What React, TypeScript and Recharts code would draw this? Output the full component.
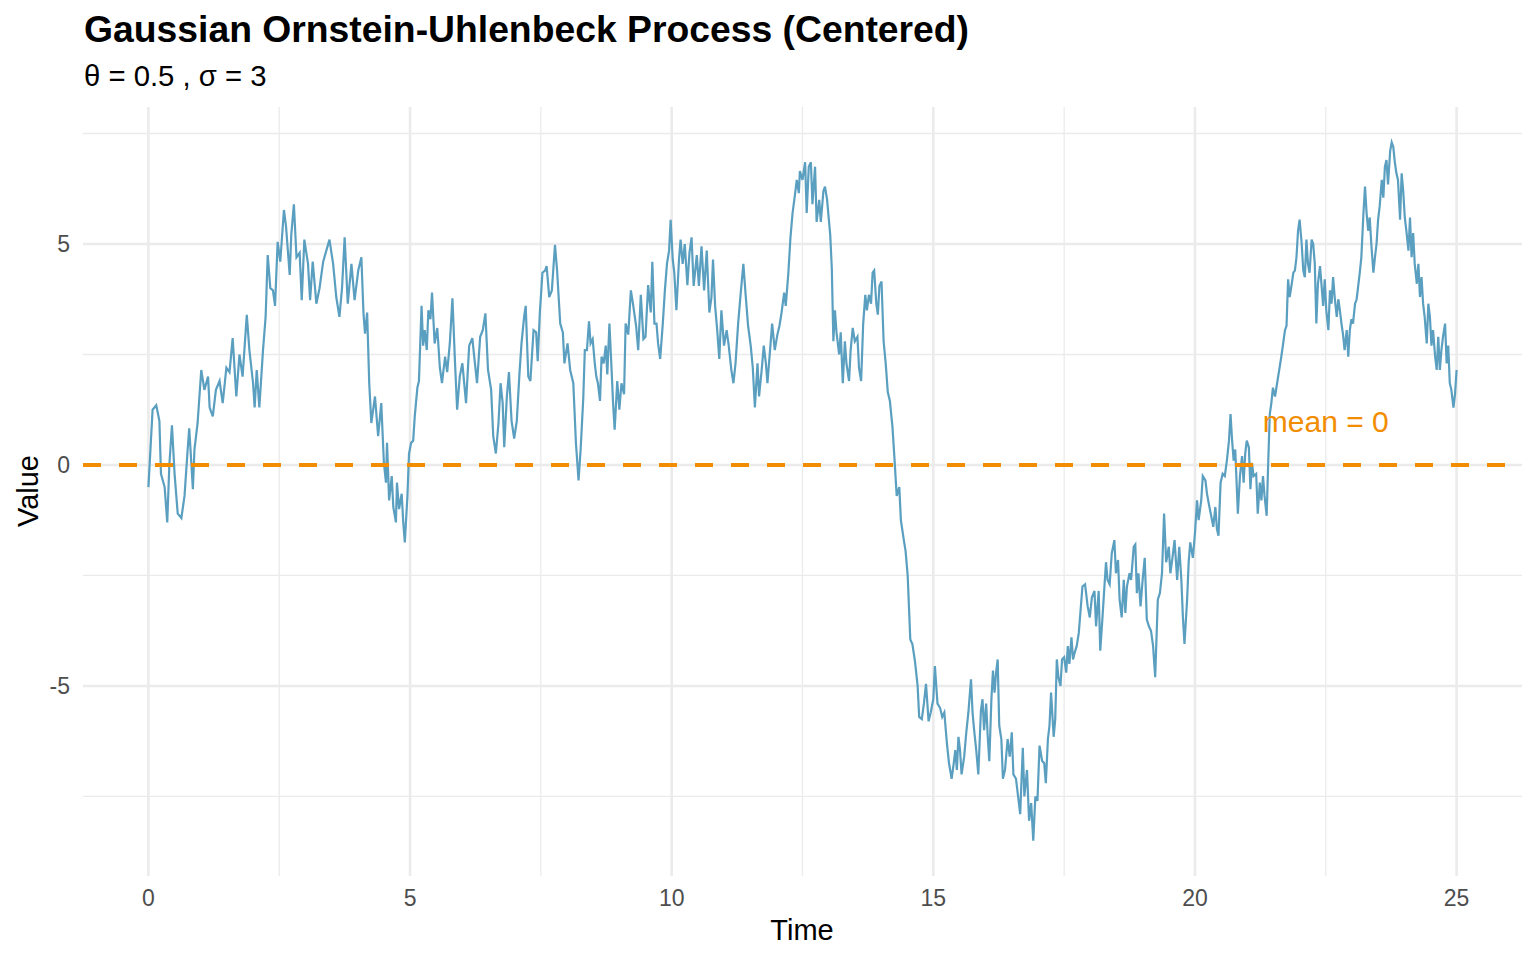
import React from 'react';
import { LineChart, Line, XAxis, YAxis, ReferenceLine, ReferenceDot } from 'recharts';

// sample path: [time, value]
const ouPath: [number, number][] = [
    [0, -0.5], [0.08, 1.25], [0.15, 1.35], [0.21, 1.0], [0.24, -0.2], [0.31, -0.5], [0.36, -1.3], [0.4, 0.0], [0.45, 0.9], [0.5, -0.2],
    [0.56, -1.1], [0.63, -1.2], [0.69, -0.7], [0.75, 0.35], [0.78, 0.83], [0.85, -0.55], [0.88, 0.35], [0.94, 0.95], [1.01, 2.15], [1.07, 1.7],
    [1.14, 2.0], [1.17, 1.3], [1.23, 1.1], [1.29, 1.7], [1.36, 1.9], [1.42, 1.4], [1.49, 2.2], [1.55, 2.1], [1.61, 2.87], [1.68, 1.55],
    [1.74, 2.5], [1.8, 2.0], [1.84, 2.7], [1.88, 3.4], [1.93, 2.6], [2.0, 1.85], [2.03, 1.3], [2.07, 2.15], [2.12, 1.3], [2.19, 2.6],
    [2.24, 3.35], [2.28, 4.75], [2.33, 4.0], [2.38, 3.95], [2.42, 3.6], [2.47, 5.05], [2.52, 4.6], [2.59, 5.77], [2.63, 5.4], [2.7, 4.3],
    [2.73, 5.2], [2.78, 5.9], [2.83, 4.7], [2.89, 4.8], [2.93, 3.73], [2.98, 5.1], [3.05, 4.55], [3.09, 3.73], [3.14, 4.6], [3.21, 3.65],
    [3.27, 4.0], [3.34, 4.6], [3.4, 4.85], [3.46, 5.1], [3.53, 4.55], [3.59, 3.8], [3.65, 3.35], [3.7, 4.0], [3.75, 5.15], [3.81, 3.65],
    [3.88, 4.55], [3.94, 3.73], [4.01, 4.4], [4.07, 4.7], [4.11, 3.43], [4.14, 2.97], [4.18, 3.45], [4.22, 1.85],
    [4.26, 0.95], [4.33, 1.55], [4.39, 0.65], [4.45, 1.4], [4.5, 0.05], [4.54, -0.4], [4.56, 0.5], [4.6, -0.8], [4.65, -0.25], [4.68, -0.95],
    [4.73, -1.3], [4.75, -0.4], [4.79, -1.0], [4.84, -0.65], [4.87, -1.3], [4.9, -1.75], [4.95, -0.7], [4.98, 0.25], [5.02, 0.5], [5.06, 0.55],
    [5.09, 1.1], [5.14, 1.75], [5.17, 1.9], [5.22, 3.6], [5.25, 2.7], [5.28, 3.05], [5.32, 2.6], [5.35, 3.5], [5.39, 3.3], [5.42, 3.9],
    [5.47, 2.75], [5.52, 3.1], [5.57, 2.2], [5.61, 1.85], [5.67, 2.45], [5.71, 2.1], [5.76, 2.75], [5.81, 3.77], [5.86, 2.3], [5.9, 1.25],
    [5.95, 2.0], [6.0, 2.3], [6.07, 1.4], [6.13, 2.7], [6.19, 2.87], [6.24, 2.3], [6.28, 1.85], [6.34, 2.9], [6.39, 3.05], [6.44, 3.43],
    [6.49, 2.15], [6.55, 1.7], [6.59, 0.65], [6.64, 0.26], [6.69, 0.95], [6.73, 1.85], [6.77, 1.4], [6.8, 0.4], [6.85, 1.55], [6.89, 2.1],
    [6.94, 1.0], [6.99, 0.6], [7.04, 1.0], [7.09, 2.05], [7.13, 2.75], [7.18, 3.35], [7.21, 3.6], [7.26, 2.0], [7.3, 1.9], [7.36, 3.05],
    [7.41, 3.0], [7.44, 2.35], [7.48, 3.43], [7.53, 4.35], [7.58, 4.4], [7.61, 4.5], [7.66, 3.8], [7.71, 3.95], [7.77, 4.98], [7.81, 4.4],
    [7.87, 3.2], [7.92, 3.0], [7.95, 2.3], [8.01, 2.75], [8.06, 2.15], [8.12, 1.85], [8.17, 0.5], [8.22, -0.35], [8.26, 0.35],
    [8.31, 1.5], [8.34, 2.6], [8.38, 2.6], [8.42, 3.25], [8.45, 2.75], [8.49, 2.85], [8.53, 2.3], [8.56, 2.0], [8.59, 1.85], [8.63, 1.45],
    [8.66, 2.45], [8.7, 2.3], [8.74, 2.7], [8.77, 2.05], [8.81, 3.2], [8.85, 2.2], [8.88, 1.4], [8.91, 0.8], [8.96, 1.9], [9.0, 1.25],
    [9.04, 1.85], [9.09, 1.6], [9.12, 3.2], [9.17, 2.95], [9.22, 3.95], [9.26, 3.65], [9.32, 3.15], [9.36, 2.6], [9.41, 3.85], [9.46, 2.85],
    [9.5, 2.9], [9.55, 4.07], [9.6, 3.45], [9.63, 4.6], [9.67, 3.2], [9.71, 3.2], [9.74, 2.75], [9.78, 2.4], [9.83, 3.2], [9.87, 3.95],
    [9.91, 4.55], [9.95, 4.85], [9.98, 5.55], [10.02, 4.65], [10.05, 4.35], [10.09, 3.5], [10.14, 4.65], [10.17, 5.1], [10.21, 4.55], [10.25, 5.0],
    [10.3, 4.07], [10.34, 4.8], [10.38, 5.15], [10.42, 4.05], [10.48, 4.75], [10.52, 4.05], [10.57, 4.95], [10.62, 3.95], [10.67, 4.85], [10.72, 3.45],
    [10.76, 3.8], [10.79, 4.65], [10.83, 3.6], [10.87, 3.05], [10.91, 2.4], [10.95, 3.5], [11.0, 2.7], [11.05, 3.05], [11.09, 2.7], [11.14, 2.15],
    [11.18, 1.85], [11.22, 2.3], [11.27, 3.2], [11.32, 3.9], [11.37, 4.55], [11.41, 3.9], [11.46, 3.15], [11.51, 2.7], [11.55, 2.2], [11.59, 1.3],
    [11.64, 2.3], [11.67, 1.55], [11.72, 2.15], [11.76, 2.7], [11.8, 2.3], [11.83, 1.85], [11.88, 2.6], [11.92, 3.2], [11.97, 2.6], [12.02, 2.95],
    [12.06, 3.15], [12.1, 3.45], [12.15, 3.9], [12.18, 3.6], [12.23, 4.35], [12.27, 5.15], [12.31, 5.7], [12.36, 6.15], [12.39, 6.45], [12.43, 6.15],
    [12.45, 6.65], [12.5, 6.45], [12.55, 6.85], [12.58, 5.7], [12.62, 6.75], [12.66, 6.85], [12.69, 5.9], [12.74, 6.75], [12.77, 5.5], [12.82, 6.0],
    [12.85, 5.5], [12.9, 6.2], [12.93, 6.3], [12.97, 6.0], [13.03, 5.2], [13.06, 4.45], [13.09, 2.8], [13.12, 3.5], [13.15, 3.0], [13.2, 2.5],
    [13.23, 3.0], [13.27, 1.85], [13.31, 2.8], [13.34, 2.3], [13.39, 1.9], [13.42, 2.6], [13.46, 3.1], [13.5, 2.8], [13.55, 2.9], [13.58, 2.2],
    [13.62, 1.9], [13.66, 3.2], [13.7, 3.85], [13.73, 3.5], [13.77, 3.85], [13.81, 3.65], [13.84, 4.35], [13.87, 4.4], [13.91, 3.65], [13.94, 3.4],
    [13.97, 4.05], [14.01, 4.15], [14.05, 2.8], [14.09, 2.3], [14.13, 1.65], [14.17, 1.45], [14.22, 0.85], [14.26, 0.1], [14.3, -0.7], [14.35, -0.5],
    [14.38, -1.25], [14.43, -1.65], [14.47, -1.95], [14.51, -2.5], [14.56, -3.95], [14.6, -4.05], [14.65, -4.45], [14.7, -5.0], [14.73, -5.7], [14.78, -5.75],
    [14.82, -5.4], [14.86, -4.95], [14.91, -5.8], [14.95, -5.6], [15.0, -5.3], [15.03, -4.55], [15.08, -5.4], [15.13, -5.5], [15.17, -5.7], [15.21, -5.6],
    [15.26, -6.3], [15.3, -6.75],
    [15.35, -7.1], [15.39, -6.75], [15.42, -6.45], [15.45, -6.9], [15.48, -6.15], [15.51, -6.45], [15.54, -7.0], [15.59, -6.6], [15.63, -6.05], [15.67, -5.6],
    [15.72, -4.85], [15.75, -5.6], [15.78, -6.0], [15.82, -6.45], [15.86, -7.0], [15.91, -5.55], [15.94, -5.3], [15.97, -6.0], [16.01, -5.4], [16.04, -6.15],
    [16.07, -6.7], [16.11, -5.3], [16.14, -4.65], [16.17, -5.15], [16.2, -4.7], [16.23, -4.4], [16.26, -5.9], [16.3, -6.2], [16.33, -7.1], [16.37, -6.9],
    [16.42, -6.2], [16.46, -6.6], [16.5, -6.05], [16.53, -7.0], [16.58, -7.1], [16.62, -7.5], [16.66, -7.9], [16.71, -6.4], [16.74, -7.5], [16.79, -6.9],
    [16.83, -8.05], [16.87, -7.65], [16.91, -8.5], [16.95, -7.5], [16.99, -7.6], [17.03, -6.35], [17.08, -6.7], [17.12, -6.75], [17.15, -7.2], [17.19, -6.2],
    [17.22, -5.9], [17.25, -5.15], [17.3, -6.15], [17.33, -5.75], [17.36, -4.4], [17.39, -4.8], [17.43, -5.0], [17.46, -4.4], [17.5, -4.35], [17.54, -4.7],
    [17.57, -4.1], [17.6, -4.5], [17.64, -3.9], [17.67, -4.4], [17.7, -4.25], [17.74, -4.1], [17.78, -3.8], [17.81, -3.35], [17.85, -2.75], [17.9, -2.7],
    [17.95, -3.2], [17.99, -3.45], [18.03, -3.0], [18.08, -2.85], [18.11, -3.65], [18.16, -2.85], [18.19, -4.2], [18.23, -3.5], [18.27, -2.75], [18.3, -2.2],
    [18.33, -2.6], [18.37, -2.7], [18.41, -2.0], [18.46, -1.7], [18.49, -2.45], [18.53, -2.15], [18.56, -3.05], [18.6, -3.45], [18.64, -2.6], [18.67, -3.35],
    [18.7, -2.75], [18.75, -2.45], [18.78, -2.6], [18.83, -1.85], [18.86, -1.8], [18.89, -2.9], [18.92, -2.45], [18.96, -3.2], [19.0, -2.6], [19.04, -2.1],
    [19.08, -3.5], [19.12, -3.65], [19.16, -3.75], [19.2, -4.1], [19.24, -4.8], [19.29, -3.05], [19.33, -2.9], [19.37, -2.45], [19.41, -1.1], [19.45, -2.2],
    [19.5, -1.85], [19.53, -2.45], [19.57, -2.1], [19.61, -1.7], [19.66, -2.6], [19.7, -1.85], [19.74, -2.6], [19.77, -3.45], [19.8, -4.05], [19.85, -3.05],
    [19.88, -2.2], [19.91, -1.75], [19.96, -2.1], [20.0, -1.55], [20.04, -0.8], [20.07, -1.25], [20.12, -0.8], [20.15, -0.25], [20.2, -0.35], [20.23, -0.65],
    [20.26, -0.85], [20.31, -1.15], [20.35, -1.4], [20.39, -0.95], [20.42, -1.45], [20.45, -1.6], [20.49, -0.4], [20.53, -0.2], [20.57, -0.25], [20.61, 0.1],
    [20.65, 0.55],
    [20.68, 1.15], [20.71, 0.55], [20.74, 0.1], [20.77, 0.35], [20.82, -1.1], [20.86, -0.25], [20.9, 0.2], [20.93, -0.4], [20.96, 0.25], [20.99, 0.55],
    [21.03, 0.4], [21.06, -0.55], [21.09, 0.05], [21.12, -0.25], [21.17, -0.2], [21.2, -1.1], [21.24, -0.4], [21.27, -0.8], [21.3, -0.25], [21.33, -0.7],
    [21.37, -1.15], [21.4, 0.05], [21.43, 1.15], [21.46, 1.4], [21.49, 1.75], [21.53, 1.55], [21.57, 1.85], [21.61, 2.15], [21.65, 2.45], [21.68, 2.7],
    [21.72, 3.05], [21.75, 3.15], [21.78, 4.2], [21.81, 3.8], [21.85, 4.1], [21.88, 4.35], [21.91, 4.4], [21.94, 4.7], [21.97, 5.3], [22.0, 5.55],
    [22.04, 5.0], [22.07, 4.4], [22.1, 4.25], [22.13, 5.1], [22.16, 4.55], [22.19, 4.35], [22.23, 5.1], [22.26, 5.0], [22.29, 4.55], [22.32, 3.2],
    [22.35, 4.1], [22.39, 4.5], [22.42, 4.05], [22.45, 3.6], [22.48, 4.2], [22.51, 3.5], [22.55, 3.05], [22.58, 3.95], [22.61, 3.65], [22.64, 4.25],
    [22.67, 3.8], [22.71, 3.35], [22.74, 3.75], [22.77, 3.5], [22.8, 3.2], [22.83, 2.95], [22.86, 2.6], [22.9, 3.05], [22.93, 2.45], [22.96, 3.05],
    [22.99, 3.3], [23.02, 3.2], [23.06, 3.65], [23.09, 3.75], [23.12, 4.05], [23.15, 4.35], [23.18, 4.7], [23.22, 5.7], [23.25, 6.3], [23.28, 5.7],
    [23.31, 5.3], [23.34, 5.6], [23.37, 5.0], [23.41, 4.35], [23.44, 4.7], [23.47, 5.0], [23.5, 5.55], [23.53, 5.85], [23.57, 6.45], [23.6, 6.05],
    [23.63, 6.75], [23.66, 6.9], [23.69, 6.35], [23.73, 7.1], [23.76, 7.3], [23.79, 7.2], [23.82, 6.85], [23.85, 6.6], [23.88, 6.45], [23.92, 5.55],
    [23.95, 6.6], [23.98, 6.2], [24.01, 5.6], [24.04, 5.3], [24.08, 4.85], [24.11, 5.6], [24.14, 4.7], [24.17, 5.25], [24.2, 4.55], [24.24, 4.1],
    [24.27, 4.55], [24.3, 3.8], [24.33, 4.25], [24.36, 3.65], [24.39, 3.35], [24.43, 2.75], [24.46, 3.65], [24.49, 3.35], [24.52, 2.7], [24.55, 3.05],
    [24.59, 2.45], [24.62, 2.15], [24.65, 2.9], [24.68, 2.15], [24.71, 2.6], [24.74, 2.9], [24.78, 3.2], [24.81, 2.3], [24.84, 2.7], [24.87, 1.85],
    [24.9, 1.7], [24.94, 1.3], [24.97, 1.6], [25.0, 2.15],
];

const xTicks = [0, 5, 10, 15, 20, 25];
const yTicks = [-5, 0, 5];
const xMinor = [2.5, 7.5, 12.5, 17.5, 22.5];
const yMinor = [-7.5, -2.5, 2.5, 7.5];
const meanLevel = 0;
const meanLabel = { x: 22.5, y: 1, text: 'mean = 0' };

const FONT = '"Liberation Sans", Arial, Helvetica, sans-serif';
const GRID = '#ebebeb';
const LINE = '#5a9fc0';
const ORANGE = '#f28c00';

const data = ouPath.map(([t, v]) => ({ t, v }));

const MeanText = (props: any) => {
    const { viewBox } = props;
    const cx = viewBox.x + viewBox.width / 2;
    const cy = viewBox.y + viewBox.height / 2;
    return (
        <text x={cx} y={cy} dy="0.36em" textAnchor="middle" fontSize={30} fill={ORANGE} fontFamily={FONT}>
            {meanLabel.text}
        </text>
    );
};

export default function App() {
    return (
        <div style={{ position: 'absolute', left: 0, top: 0, width: 1536, height: 960, background: '#fff', fontFamily: FONT }}>
            <LineChart width={1536} height={960} data={data} margin={{ top: 107, right: 14, bottom: 54, left: 33 }}>
                {xMinor.map((x) => (
                    <ReferenceLine key={'xm' + x} x={x} stroke={GRID} strokeWidth={1.3} />
                ))}
                {yMinor.map((y) => (
                    <ReferenceLine key={'ym' + y} y={y} stroke={GRID} strokeWidth={1.3} />
                ))}
                {xTicks.map((x) => (
                    <ReferenceLine key={'x' + x} x={x} stroke={GRID} strokeWidth={2.6} />
                ))}
                {yTicks.map((y) => (
                    <ReferenceLine key={'y' + y} y={y} stroke={GRID} strokeWidth={2.6} />
                ))}
                <XAxis
                    dataKey="t"
                    type="number"
                    domain={[-1.25, 26.25]}
                    ticks={xTicks}
                    height={30}
                    axisLine={false}
                    tickLine={false}
                    tickSize={0}
                    tickMargin={14}
                    tick={{ fontSize: 23, fill: '#4d4d4d', fontFamily: FONT }}
                />
                <YAxis
                    type="number"
                    domain={[-9.3, 8.1]}
                    ticks={yTicks}
                    width={50}
                    axisLine={false}
                    tickLine={false}
                    tickSize={0}
                    tickMargin={13}
                    tick={{ fontSize: 23, fill: '#4d4d4d', fontFamily: FONT }}
                    allowDataOverflow
                />
                <Line
                    type="linear"
                    dataKey="v"
                    stroke={LINE}
                    strokeWidth={2.2}
                    dot={false}
                    activeDot={false}
                    isAnimationActive={false}
                />
                <ReferenceLine y={meanLevel} stroke={ORANGE} strokeWidth={4} strokeDasharray="18 18" />
                <ReferenceDot x={meanLabel.x} y={meanLabel.y} r={0} fill="none" stroke="none" label={<MeanText />} />
            </LineChart>
            <svg width={1536} height={960} style={{ position: 'absolute', left: 0, top: 0, pointerEvents: 'none' }}>
                <text x={84} y={42} fontSize={37.3} fontWeight="bold" fill="#000" fontFamily={FONT}>
                    Gaussian Ornstein-Uhlenbeck Process (Centered)
                </text>
                <text x={84} y={86} fontSize={29.3} fill="#000" fontFamily={FONT}>
                    θ = 0.5 , σ = 3
                </text>
                <text x={802} y={940} fontSize={29} fill="#000" textAnchor="middle" fontFamily={FONT}>
                    Time
                </text>
                <text x={38} y={491} fontSize={29} fill="#000" textAnchor="middle" fontFamily={FONT} transform="rotate(-90 38 491)">
                    Value
                </text>
            </svg>
        </div>
    );
}
